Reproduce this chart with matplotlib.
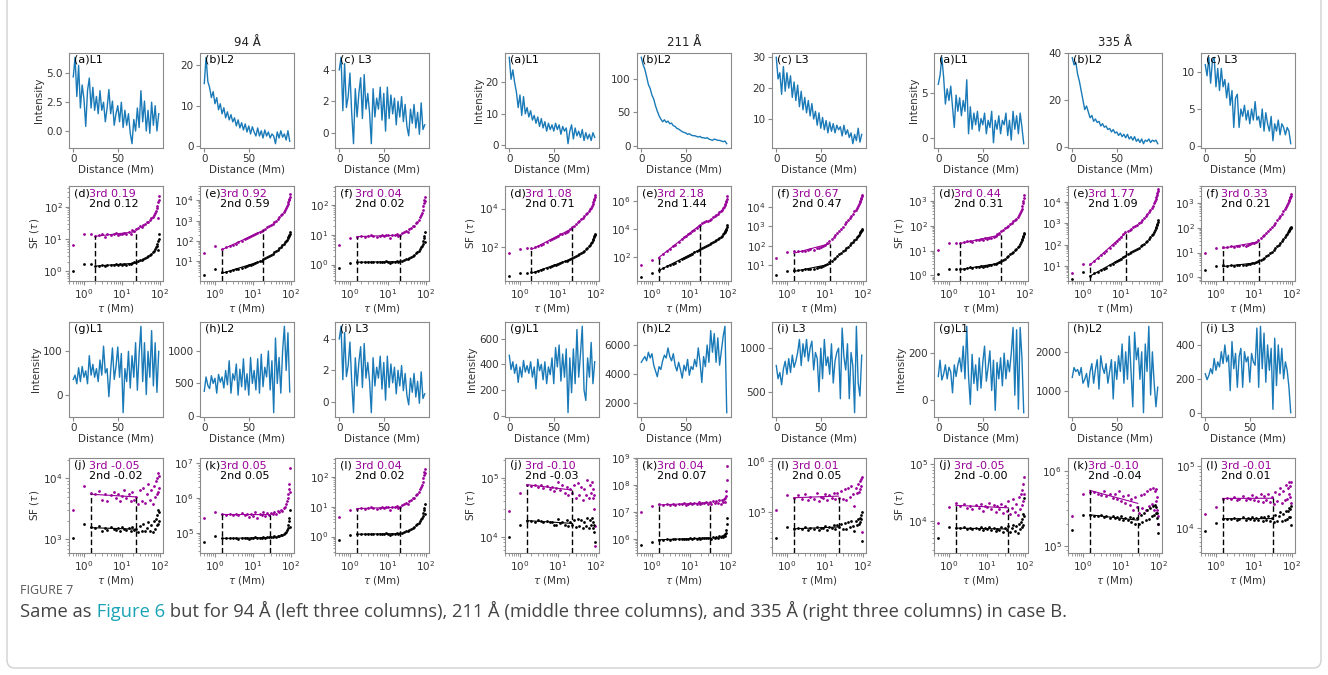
import numpy as np
import matplotlib.pyplot as plt
from matplotlib.patches import FancyBboxPatch
from matplotlib.ticker import NullFormatter

plt.rcParams['font.size'] = 7.5
plt.rcParams['axes.edgecolor'] = '#8a8a8a'
plt.rcParams['xtick.color'] = '#8a8a8a'
plt.rcParams['ytick.color'] = '#8a8a8a'
plt.rcParams['xtick.labelcolor'] = '#333333'
plt.rcParams['ytick.labelcolor'] = '#333333'
plt.rcParams['axes.labelcolor'] = '#333333'
plt.rcParams['xtick.major.pad'] = 1.5
plt.rcParams['ytick.major.pad'] = 1.5
plt.rcParams['xtick.major.size'] = 3
plt.rcParams['ytick.major.size'] = 3
plt.rcParams['xtick.minor.size'] = 1.8
plt.rcParams['ytick.minor.size'] = 1.8

blue = '#1a7ab8'
purple = '#990099'

bands = ['94', '211', '335']

# ---------------- intensity profiles (sampled every ~2 Mm) ----------------
int_94_L1 = [4.7, 6.4, 3.0, 5.7, 2.0, 4.0, 2.8, 0.4, 3.5, 4.6, 2.0, 3.8, 1.8, 3.0, 1.5, 3.5, 1.8, 2.5, 0.8, 2.0,
             3.6, 1.5, 2.6, 0.5, 1.5, 2.2, 0.8, 2.5, 0.3, 1.8, 0.5, 1.5, -0.2, -1.1, 1.0, 0.0, 2.0, 0.3, 3.5, 0.8,
             2.6, 0.0, 1.8, -0.2, 2.5, 0.5, 2.2, 0.0, 1.5]
int_94_L2 = [15.5, 22.0, 16.0, 14.5, 12.0, 13.5, 10.5, 12.0, 9.0, 10.5, 8.0, 9.5, 7.0, 8.5, 6.5, 7.8, 6.0, 7.0, 5.0, 6.5,
             4.5, 5.8, 4.0, 5.5, 3.5, 5.0, 3.0, 4.8, 3.5, 2.5, 4.5, 2.5, 3.8, 2.0, 4.0, 2.5, 3.5, 2.0, 3.0, 2.5,
             0.6, 3.5, 2.0, 3.8, 2.2, 3.0, 1.5, 3.8, 1.2]
int_94_L3 = [4.0, 4.8, 1.4, 4.4, 1.6, 2.3, 3.8, 1.2, -0.7, 2.8, 1.0, 2.5, 3.5, 0.9, 3.7, 1.5, 2.5, 1.3, -0.7, 2.8,
             1.0, 2.2, 1.5, 2.9, 0.8, 2.5, 0.1, 2.9, 0.9, 2.4, 1.2, 2.2, 0.5, 2.0, 1.0, 2.3, 0.7, 1.8, 0.4, -0.2,
             1.5, 0.6, 1.8, 0.3, 1.3, -0.1, 1.9, 0.2, 0.5]
int_211_L1 = [28.0, 21.0, 24.0, 20.0, 17.0, 12.0, 16.0, 9.5, 15.5, 10.0, 12.0, 9.0, 11.0, 8.0, 9.5, 7.0, 9.0, 6.0, 8.5, 5.5,
              7.5, 4.5, 7.0, 5.0, 6.5, 4.5, 7.0, 5.0, 6.5, 3.5, 6.0, 4.5, 5.5, 0.5, 4.5, 6.5, 2.0, 5.5, 3.0, 4.5,
              2.5, 5.0, 1.5, 4.0, 2.0, 3.5, 1.5, 4.0, 2.5]
int_211_L2 = [133, 122, 115, 104, 92, 86, 76, 70, 60, 52, 45, 40, 36, 39, 35, 37, 33, 34, 30, 29,
              26, 25, 23, 21, 20, 19, 17, 18, 16, 15, 15, 14, 13, 14, 12, 12, 11, 12, 10, 9,
              8, 10, 9, 8, 8, 7, 6, 7, 3]
int_211_L3 = [30.0, 23.0, 25.0, 18.0, 27.0, 19.0, 25.0, 20.0, 24.0, 17.0, 22.0, 16.0, 21.0, 14.0, 19.0, 13.0, 17.0, 12.0,
              16.0, 11.0, 15.0, 10.0, 12.5, 8.0, 12.0, 7.0, 10.5, 6.5, 9.5, 5.5, 9.0, 6.0, 8.5, 5.5, 8.0, 6.5, 7.5,
              4.5, 8.0, 5.0, 6.5, 4.0, 5.5, 2.0, 5.0, 3.0, 7.0, 2.5, 5.0]
int_335_L1 = [6.0, 7.0, 9.0, 6.8, 3.8, 5.5, 4.2, 5.8, 3.5, 1.2, 4.8, 3.0, 4.5, 2.5, 4.2, 3.0, 6.5, 0.5, 3.5, 1.0,
              2.8, 1.5, 3.0, 0.8, 2.2, 1.5, 2.8, 0.5, 2.0, 1.2, 3.0, -0.5, 2.0, 1.0, 2.5, 0.5, 2.0, 1.5, 2.8, 0.3,
              2.0, -0.2, 3.0, 1.0, 2.5, 0.5, 2.8, 1.2, -0.6]
int_335_L2 = [38.0, 35.0, 36.0, 31.0, 28.0, 24.0, 20.0, 16.0, 17.5, 15.0, 12.5, 13.5, 11.0, 12.0, 10.5, 11.0, 9.0, 10.0,
              8.5, 9.0, 7.5, 8.0, 6.5, 7.5, 6.0, 6.5, 5.0, 6.0, 4.5, 5.5, 4.0, 5.5, 3.5, 4.5, 3.0, 4.5, 2.5, 3.5,
              2.0, 3.5, 1.5, 3.0, 2.5, 3.5, 2.0, 3.0, 2.5, 3.0, 1.5]
int_335_L3 = [11.0, 9.5, 12.0, 8.5, 11.5, 12.0, 8.0, 10.5, 7.5, 10.5, 8.0, 9.0, 6.5, 8.5, 5.5, 7.5, 2.5, 6.5, 7.0, 2.5,
              5.0, 4.0, 5.5, 3.5, 4.8, 3.0, 5.0, 3.5, 6.0, 3.5, 4.0, 2.5, 5.0, 2.0, 4.5, 3.0, 2.0, 4.0, 0.7, 3.0,
              2.0, 3.5, 1.5, 3.0, 2.5, 1.5, 2.5, 2.0, 0.3]

int_94_g = [35, 45, 25, 62, 30, 65, 40, 55, 25, 90, 45, 70, 40, 60, 30, 80, 45, 112, 50, 60,
            -5, 55, 108, 35, 65, 110, 40, 95, -42, 60, 30, 100, 15, 90, 40, 120, 10, 95, 158, 30,
            120, 0, 100, 40, 148, 20, 120, 5, 100]
int_94_h = [380, 600, 470, 420, 620, 500, 580, 350, 640, 520, 600, 430, 700, 480, 850, 350, 650, 550, 800, 320,
            720, 450, 880, 400, 650, 320, 900, 500, 700, 400, 880, 350, 950, 450, 750, 600, 1000, 400, 850, 50,
            1200, 500, 900, 350, 1000, 1380, 700, 1280, 370]
int_94_i = int_94_L3
int_211_g = [470, 360, 420, 330, 400, 260, 380, 300, 430, 340, 390, 330, 420, 300, 380, 210, 440, 350, 400, 280,
             420, 250, 380, 320, 450, 250, 530, 380, 550, 270, 480, 300, 520, 25, 450, 180, 520, 250, 670, 300,
             480, 695, 200, 120, 450, 300, 570, 250, 420]
int_211_h = [4800, 5000, 5200, 4900, 5500, 5100, 5400, 4600, 4200, 3800, 4500, 4300, 4900, 5300, 5100, 5800, 5200,
             4900, 5400, 4600, 4200, 4800, 4300, 3700, 4600, 4200, 5000, 3900, 4500, 4300, 5000, 4500, 5800, 4800,
             3400, 5200, 4500, 6000, 4800, 7000, 5500, 6800, 4800, 6500, 4600, 5600, 6600, 7300, 1300]
int_211_i = [800, 650, 720, 580, 760, 850, 700, 880, 720, 920, 780, 850, 950, 1100, 800, 1050, 900, 1100, 850, 1000,
             1080, 750, 950, 880, 500, 1000, 650, 1100, 800, 900, 700, 1050, 600, 850, 950, 1000, 420, 1230, 900,
             750, 1050, 420, 950, 800, 260, 1250, 600, 450, 920]
int_335_g = [100, 170, 85, 110, 150, 90, 140, 120, 30, 150, 100, 150, 180, 120, 230, 90, 315, 100, -20, 195,
             70, 150, 40, 180, 50, 160, 230, 80, 140, 210, 40, 170, -45, 160, 90, 180, 60, 200, 90, 170,
             120, 200, 310, 20, 300, -40, 310, 180, -55]
int_335_h = [1350, 1600, 1500, 1550, 1400, 1600, 1200, 1300, 1450, 1100, 1500, 1700, 1200, 1550, 1800, 1050, 1900,
             1600, 1450, 1700, 1200, 1500, 1800, 800, 1750, 1300, 1900, 1500, 2200, 1200, 2000, 1300, 2400, 1500,
             600, 2500, 1800, 2100, 1300, 2000, 450, 2200, 1500, 2650, 900, 2000, 1200, 600, 1100]
int_335_i = [230, 195, 220, 260, 230, 320, 250, 300, 270, 360, 290, 400, 300, 340, 130, 420, 260, 350, 150, 330,
             380, 150, 360, 300, 330, 180, 350, 300, 280, 500, 150, 510, 260, 470, 180, 400, 250, 380, 20, 440,
             160, 400, 230, 380, 200, 300, 250, 150, 0]

int_top = [[int_94_L1, int_94_L2, int_94_L3], [int_211_L1, int_211_L2, int_211_L3],
           [int_335_L1, int_335_L2, int_335_L3]]
int_bot = [[int_94_g, int_94_h, int_94_i], [int_211_g, int_211_h, int_211_i],
           [int_335_g, int_335_h, int_335_i]]
yt_top = [[[0.0, 2.5, 5.0], [0, 10, 20], [0, 2, 4]], [[0, 10, 20], [0, 50, 100], [10, 20, 30]],
          [[0, 5], [0, 20, 40], [0, 5, 10]]]
yt_bot = [[[0, 100], [0, 500, 1000], [0, 2, 4]], [[0, 200, 400, 600], [2000, 4000, 6000], [500, 1000]],
          [[0, 200], [1000, 2000], [0, 200, 400]]]

# ---------------- structure functions ----------------
tau = [0.5, 1, 1.5, 2, 2.5, 3, 3.5, 4, 5, 6, 7, 8, 9, 10, 11.5, 13, 15, 17, 19, 21.5,
       24, 27, 30, 33.5, 37, 41, 45, 50, 55, 60, 65, 70, 75, 79, 83, 86, 89, 91, 93, 95]

sf3_94_d = [6.5, 15, 15, 12.5, 13, 14, 12, 15, 13, 14, 16, 13, 15, 14, 16, 14, 17, 15, 19, 18,
            21, 22, 25, 24, 28, 30, 34, 33, 40, 45, 50, 55, 65, 75, 90, 110, 140, 45, 170, 220]
sf2_94_d = [1.0, 1.7, 1.7, 1.45, 1.5, 1.55, 1.5, 1.6, 1.55, 1.6, 1.65, 1.55, 1.7, 1.6, 1.65, 1.6, 1.75, 1.7, 1.85, 1.9,
            2.0, 2.1, 2.3, 2.3, 2.5, 2.6, 2.8, 2.9, 3.2, 3.5, 3.9, 4.3, 5.0, 5.6, 6.3, 7.0, 8.5, 4.5, 10, 14]
sf3_94_e = [27, 60, 42, 50, 60, 65, 75, 85, 100, 120, 135, 150, 170, 190, 210, 240, 280, 320, 360, 400,
            470, 540, 620, 720, 850, 1000, 1200, 1450, 1800, 2200, 2700, 3300, 4200, 5000, 6500, 8000, 10000, 12000,
            15000, 20000]
sf2_94_e = [2.2, 4.3, 2.9, 3.2, 3.5, 3.8, 4.1, 4.4, 5.0, 5.5, 6.0, 6.5, 7.0, 7.5, 8.3, 9.0, 10, 11, 12.5, 14,
            16, 18, 21, 24, 28, 33, 38, 45, 53, 62, 72, 85, 100, 115, 135, 155, 180, 200, 230, 270]
sf3_94_f = [4.5, 8, 8.5, 9, 8.5, 9, 9.5, 9, 8.5, 9, 9.5, 9, 10, 9.5, 8, 10, 9.5, 10.5, 9, 10,
            11, 12, 13, 12, 15, 17, 19, 20, 24, 27, 32, 38, 45, 55, 70, 90, 120, 150, 130, 180]
sf2_94_f = [0.75, 1.15, 1.2, 1.2, 1.18, 1.22, 1.2, 1.25, 1.2, 1.22, 1.25, 1.2, 1.3, 1.25, 1.15, 1.25, 1.2, 1.3, 1.25,
            1.3, 1.35, 1.4, 1.5, 1.5, 1.65, 1.8, 1.95, 2.1, 2.4, 2.6, 2.9, 3.3, 3.8, 4.3, 5.0, 6.0, 7.5, 9.0, 5.5, 12]
sf3_211_d = [50, 75, 85, 90, 95, 110, 125, 140, 180, 220, 250, 300, 330, 380, 450, 500, 560, 620, 720, 850,
             1100, 1300, 1600, 1900, 2300, 2800, 3300, 4000, 5000, 6000, 7500, 9000, 11000, 14000, 18000, 22000,
             28000, 33000, 40000, 50000]
sf2_211_d = [3.2, 4.2, 4.5, 4.8, 5.2, 5.8, 6.3, 6.8, 8, 9, 10, 11, 12, 13, 15, 16, 18, 19, 21, 23,
             26, 29, 33, 37, 42, 48, 55, 65, 78, 92, 110, 130, 160, 190, 230, 270, 320, 360, 400, 460]
sf3_211_e = [29, 68, 95, 180, 280, 420, 600, 800, 1300, 1900, 2600, 3400, 4300, 5300, 7000, 9000, 12000, 16000,
             21000, 27000, 32000, 36000, 40000, 46000, 55000, 67000, 80000, 1.0e5, 1.25e5, 1.55e5, 1.9e5, 2.4e5,
             3.0e5, 3.8e5, 4.8e5, 6.0e5, 8.0e5, 1.0e6, 1.4e6, 2.2e6]
sf2_211_e = [4.5, 8, 13, 18, 24, 30, 37, 44, 60, 76, 95, 115, 135, 155, 190, 225, 275, 330, 390, 460,
             540, 630, 730, 860, 1000, 1200, 1400, 1700, 2050, 2450, 2900, 3500, 4200, 5000, 6000, 7200, 9000,
             11000, 14000, 19000]
sf3_211_f = [22, 48, 50, 52, 55, 55, 58, 65, 62, 75, 80, 85, 95, 110, 140, 170, 220, 280, 350, 450,
             580, 750, 950, 1250, 1600, 2100, 2700, 3500, 4500, 5800, 7200, 9000, 11500, 14000, 17500, 21000,
             26000, 30000, 35000, 42000]
sf2_211_f = [3, 5.2, 5.5, 5.7, 5.8, 6, 6, 6.3, 6.5, 7, 7.5, 8, 9, 10, 12, 14, 17, 20, 24, 29,
             35, 42, 50, 60, 72, 88, 105, 130, 160, 190, 225, 270, 320, 370, 430, 480, 540, 590, 640, 700]
sf3_335_d = [11, 20, 21, 20, 22, 24, 25, 23, 28, 26, 30, 27, 32, 30, 33, 31, 36, 40, 45, 50,
             60, 70, 80, 90, 100, 115, 135, 150, 170, 190, 220, 260, 320, 380, 480, 600, 800, 1000, 1300, 1800]
sf2_335_d = [1.2, 1.8, 1.8, 1.8, 1.9, 2.0, 2.1, 2.0, 2.2, 2.2, 2.4, 2.3, 2.5, 2.4, 2.6, 2.6, 2.8, 3.0, 3.2, 3.5,
             3.8, 4.3, 4.8, 5.5, 6.2, 7, 8, 9, 10.5, 12, 14, 16, 19, 22, 26, 30, 35, 40, 45, 52]
sf3_335_e = [4.5, 12, 12, 18, 25, 32, 40, 48, 70, 95, 120, 150, 180, 220, 300, 380, 450, 500, 560, 650,
             750, 870, 1000, 1200, 1450, 1750, 2100, 2600, 3200, 4000, 5000, 6500, 8500, 11000, 14000, 17000,
             22000, 26000, 32000, 42000]
sf2_335_e = [2.5, 5, 3.5, 4.5, 5.5, 6.5, 7.5, 8.5, 11, 13, 15, 17, 19, 22, 26, 30, 35, 40, 44, 50,
             56, 63, 72, 82, 95, 110, 130, 155, 185, 220, 270, 330, 410, 490, 590, 680, 820, 950, 1100, 1400]
sf3_335_f = [10, 15, 17, 16, 18, 17, 19, 18, 20, 19, 21, 22, 24, 25, 28, 32, 38, 45, 52, 62,
             75, 90, 110, 135, 165, 200, 250, 310, 380, 470, 580, 700, 850, 1000, 1200, 1400, 1600, 1800, 2000, 2300]
sf2_335_f = [2, 2.9, 3, 2.9, 3, 2.95, 3.1, 3, 3.1, 3.2, 3.3, 3.4, 3.6, 3.8, 4.1, 4.5, 5, 5.6, 6.2, 7,
             8, 9.3, 11, 13, 15, 18, 21, 25, 30, 36, 43, 50, 58, 66, 74, 80, 88, 95, 100, 110]

sf3_94_j = [3000, 7500, 5800, 5500, 6200, 4500, 5600, 4200, 5400, 6000, 4800, 5500, 4300, 5200, 6500, 4800, 5500,
            4200, 6000, 4500, 5000, 3800, 6500, 4200, 7000, 4000, 5500, 8000, 4500, 6500, 3800, 7500, 5000, 9000,
            5500, 10000, 6000, 12000, 7000, 11000]
sf2_94_j = [1050, 1800, 1600, 1550, 1650, 1400, 1550, 1450, 1600, 1500, 1450, 1550, 1400, 1600, 1500, 1450, 1550,
            1400, 1600, 1450, 1500, 1300, 1650, 1400, 1800, 1350, 1550, 1900, 1400, 1700, 1300, 2000, 1500, 2200,
            1700, 2500, 1800, 3000, 2000, 2800]
sf3_94_k = [2.7e5, 4e5, 3.4e5, 3.3e5, 3.5e5, 3.2e5, 3.4e5, 3.3e5, 3.6e5, 3.2e5, 3.5e5, 2.8e5, 3.4e5, 3.0e5, 3.8e5,
            2.6e5, 3.5e5, 3.2e5, 4.0e5, 3.0e5, 3.6e5, 3.3e5, 3.7e5, 3.5e5, 4.0e5, 3.4e5, 4.2e5, 3.8e5, 4.5e5,
            4.2e5, 5.0e5, 5.5e5, 6.5e5, 8e5, 1.0e6, 1.3e6, 1.8e6, 2.5e6, 1.5e6, 7e6]
sf2_94_k = [5.5e4, 8e4, 7e4, 6.8e4, 7.2e4, 6.9e4, 7e4, 6.7e4, 7.1e4, 6.8e4, 7e4, 6.6e4, 7.2e4, 6.9e4, 7.3e4, 6.8e4,
            7.2e4, 7e4, 7.5e4, 7.1e4, 7.4e4, 7.3e4, 7.6e4, 7.4e4, 7.8e4, 7.5e4, 8e4, 7.8e4, 8.3e4, 8.5e4, 9e4,
            9.5e4, 1.05e5, 1.2e5, 1.4e5, 1.7e5, 2.1e5, 2.6e5, 1.5e5, 4.5e5]
sf3_94_l = sf3_94_f
sf2_94_l = sf2_94_f
sf3_211_j = [2.7e4, 5.5e4, 7.5e4, 7.2e4, 7.6e4, 7.0e4, 7.4e4, 6.8e4, 7.2e4, 6.5e4, 7.0e4, 6.0e4, 6.8e4, 8.5e4,
             6.2e4, 7.5e4, 5.5e4, 7.0e4, 5.0e4, 6.5e4, 5.5e4, 7.5e4, 4.5e4, 8.0e4, 5.0e4, 7.0e4, 4.2e4, 6.5e4,
             5.0e4, 9.0e4, 4.5e4, 7.5e4, 5.5e4, 8.5e4, 4.5e4, 6.5e4, 3.0e4, 5.0e4, 1.5e4, 7e3]
sf2_211_j = [1e4, 1.55e4, 1.85e4, 1.85e4, 1.8e4, 1.9e4, 1.85e4, 1.8e4, 1.85e4, 1.75e4, 1.8e4, 1.6e4, 1.55e4, 2.0e4,
             1.7e4, 1.8e4, 1.6e4, 1.9e4, 1.5e4, 1.8e4, 1.6e4, 1.9e4, 1.45e4, 2.0e4, 1.5e4, 1.9e4, 1.4e4, 1.8e4,
             1.5e4, 2.1e4, 1.4e4, 1.9e4, 1.6e4, 2.1e4, 1.4e4, 1.8e4, 1.2e4, 1.6e4, 8e3, 5e3]
sf3_211_k = [1e7, 1.6e7, 1.9e7, 1.8e7, 1.9e7, 1.85e7, 2.0e7, 1.8e7, 2.0e7, 1.9e7, 2.1e7, 1.8e7, 2.0e7, 2.2e7,
             1.9e7, 2.1e7, 2.0e7, 2.3e7, 2.0e7, 2.2e7, 2.1e7, 2.4e7, 2.0e7, 2.3e7, 1.9e7, 2.5e7, 2.1e7, 2.6e7,
             2.2e7, 2.8e7, 2.0e7, 2.7e7, 2.3e7, 3.0e7, 2.4e7, 3.2e7, 4.0e7, 6.0e7, 1.5e8, 5e8]
sf2_211_k = [6e5, 7.5e5, 9e5, 9.5e5, 9.8e5, 9.5e5, 1.0e6, 9.6e5, 1.0e6, 9.8e5, 1.02e6, 9.7e5, 1.0e6, 1.05e6,
             1.0e6, 1.05e6, 1.02e6, 1.08e6, 1.03e6, 1.1e6, 1.05e6, 1.12e6, 1.05e6, 1.1e6, 1.0e6, 1.15e6, 1.08e6,
             1.2e6, 1.1e6, 1.25e6, 1.15e6, 1.3e6, 1.2e6, 1.4e6, 1.3e6, 1.5e6, 1.7e6, 2.2e6, 3.5e6, 6e6]
sf3_211_l = [1.1e5, 2.1e5, 1.9e5, 2.1e5, 1.8e5, 2.2e5, 1.7e5, 2.0e5, 1.8e5, 2.3e5, 1.6e5, 2.0e5, 1.9e5, 2.2e5,
             1.7e5, 2.1e5, 1.9e5, 2.4e5, 1.8e5, 2.3e5, 1.9e5, 2.6e5, 1.8e5, 2.8e5, 1.7e5, 3.0e5, 2.0e5, 3.2e5,
             2.2e5, 1.3e5, 3.0e5, 2.4e5, 3.5e5, 2.5e5, 4.0e5, 2.8e5, 4.5e5, 3.2e5, 5.0e5, 4e4]
sf2_211_l = [3e4, 5e4, 4.6e4, 4.8e4, 4.5e4, 4.9e4, 4.4e4, 4.8e4, 4.6e4, 5.0e4, 4.3e4, 4.8e4, 4.7e4, 5.1e4, 4.4e4,
             5.0e4, 4.7e4, 5.4e4, 4.6e4, 5.3e4, 4.9e4, 5.6e4, 4.6e4, 5.9e4, 4.5e4, 6.2e4, 5.0e4, 6.5e4, 5.2e4,
             4.2e4, 6.5e4, 5.5e4, 7.0e4, 5.8e4, 7.5e4, 6.2e4, 8.5e4, 7.0e4, 1.0e5, 2.6e4]
sf3_335_j = [9000, 17500, 21000, 18000, 19500, 17000, 18500, 16000, 19000, 17000, 20000, 15000, 18000, 17500,
             21000, 16000, 19000, 14500, 18000, 16000, 20000, 13500, 18000, 15000, 22000, 13000, 17000, 24000,
             14000, 20000, 12500, 26000, 16000, 30000, 19000, 35000, 22000, 45000, 30000, 60000]
sf2_335_j = [5000, 7700, 7500, 7300, 7600, 7100, 7400, 7000, 7500, 7200, 7600, 6800, 7300, 7000, 7800, 6800, 7400,
             6500, 7200, 6900, 7600, 6400, 7500, 6800, 8000, 6200, 7400, 8500, 6500, 8000, 6000, 8800, 7000, 9500,
             7800, 10500, 8500, 13000, 12000, 25000]
sf3_335_k = [2.5e5, 5e5, 5.2e5, 5.3e5, 5.0e5, 4.8e5, 5.4e5, 4.6e5, 5.0e5, 4.4e5, 4.9e5, 4.2e5, 5.5e5, 4.0e5, 4.6e5,
             3.8e5, 4.8e5, 3.5e5, 4.2e5, 3.0e5, 4.5e5, 3.3e5, 2.8e5, 4.8e5, 3.2e5, 5.0e5, 3.0e5, 5.5e5, 3.4e5,
             5.8e5, 3.6e5, 6.0e5, 3.0e5, 5.5e5, 4.0e5, 5.8e5, 3.0e5, 4.5e5, 2.5e5, 2.0e5]
sf2_335_k = [1.65e5, 2.6e5, 2.6e5, 2.55e5, 2.5e5, 2.6e5, 2.45e5, 2.55e5, 2.4e5, 2.5e5, 2.35e5, 2.45e5, 2.3e5, 2.5e5,
             2.25e5, 2.4e5, 2.2e5, 2.45e5, 2.1e5, 2.35e5, 2.0e5, 2.4e5, 2.0e5, 2.6e5, 2.1e5, 2.8e5, 2.2e5, 3.0e5,
             2.3e5, 3.2e5, 2.5e5, 3.4e5, 2.6e5, 3.5e5, 2.8e5, 3.3e5, 2.4e5, 2.8e5, 2.0e5, 1.5e5]
sf3_335_l = [1.7e4, 2.2e4, 3.0e4, 3.1e4, 2.9e4, 3.2e4, 2.8e4, 3.0e4, 3.3e4, 2.8e4, 3.1e4, 2.9e4, 3.4e4, 2.8e4, 3.2e4,
             2.7e4, 3.5e4, 2.6e4, 3.3e4, 2.8e4, 3.6e4, 2.6e4, 3.2e4, 2.4e4, 3.8e4, 2.7e4, 3.5e4, 4.5e4, 2.5e4,
             4.0e4, 2.8e4, 5.0e4, 3.0e4, 4.5e4, 3.5e4, 5.5e4, 3.2e4, 4.8e4, 2.5e4, 5.5e4]
sf2_335_l = [9000, 1.2e4, 1.4e4, 1.42e4, 1.38e4, 1.45e4, 1.35e4, 1.42e4, 1.48e4, 1.36e4, 1.44e4, 1.38e4, 1.5e4,
             1.36e4, 1.46e4, 1.32e4, 1.52e4, 1.3e4, 1.48e4, 1.36e4, 1.55e4, 1.3e4, 1.45e4, 1.25e4, 1.6e4, 1.3e4,
             1.55e4, 1.8e4, 1.3e4, 1.7e4, 1.35e4, 1.9e4, 1.4e4, 1.85e4, 1.5e4, 2.1e4, 1.5e4, 2.0e4, 1.1e4, 2.3e4]

sf_top = [[(sf2_94_d, sf3_94_d), (sf2_94_e, sf3_94_e), (sf2_94_f, sf3_94_f)],
          [(sf2_211_d, sf3_211_d), (sf2_211_e, sf3_211_e), (sf2_211_f, sf3_211_f)],
          [(sf2_335_d, sf3_335_d), (sf2_335_e, sf3_335_e), (sf2_335_f, sf3_335_f)]]
sf_bot = [[(sf2_94_j, sf3_94_j), (sf2_94_k, sf3_94_k), (sf2_94_l, sf3_94_l)],
          [(sf2_211_j, sf3_211_j), (sf2_211_k, sf3_211_k), (sf2_211_l, sf3_211_l)],
          [(sf2_335_j, sf3_335_j), (sf2_335_k, sf3_335_k), (sf2_335_l, sf3_335_l)]]

# slopes printed in the panels (3rd, 2nd)
slope_top = [[('0.19', '0.12'), ('0.92', '0.59'), ('0.04', '0.02')],
             [('1.08', '0.71'), ('2.18', '1.44'), ('0.67', '0.47')],
             [('0.44', '0.31'), ('1.77', '1.09'), ('0.33', '0.21')]]
slope_bot = [[('-0.05', '-0.02'), ('0.05', '0.05'), ('0.04', '0.02')],
             [('-0.10', '-0.03'), ('0.04', '0.07'), ('0.01', '0.05')],
             [('-0.05', '-0.00'), ('-0.10', '-0.04'), ('-0.01', '0.01')]]
# fitting ranges (Mm)
fit_top = [[(2.0, 23), (1.5, 19), (1.5, 21)], [(2.0, 24), (1.5, 19), (1.5, 13.5)],
           [(2.0, 23), (1.5, 13.5), (1.5, 13.5)]]
fit_bot = [[(1.5, 23), (1.5, 28), (1.5, 21)], [(1.5, 23), (1.5, 33), (1.5, 23)],
           [(1.5, 37), (1.5, 28), (1.5, 32)]]
ylim_top = [[(0.5, 450), (1.1, 5e4), (0.28, 430)], [(1.7, 1.5e5), (2.2, 1.1e7), (1.5, 1.2e5)],
            [(0.6, 4000), (2.0, 5.5e4), (0.7, 5000)]]
ylim_bot = [[(600, 2.15e4), (2.6e4, 1.4e7), (0.28, 430)], [(5300, 2.15e5), (3e5, 9.4e8), (1.5e4, 1.17e6)],
            [(2660, 1.3e5), (8.1e4, 1.5e6), (3900, 1.37e5)]]
yt_sf_top = [[[1, 10, 100], [10, 100, 1e3, 1e4], [1, 10, 100]], [[1e2, 1e4], [1e2, 1e4, 1e6], [10, 1e2, 1e3, 1e4]],
             [[1, 10, 100, 1e3], [10, 1e2, 1e3, 1e4], [1, 10, 100, 1e3]]]
yt_sf_bot = [[[1e3, 1e4], [1e5, 1e6, 1e7], [1, 10, 100]], [[1e4, 1e5], [1e6, 1e7, 1e8, 1e9], [1e5, 1e6]],
             [[1e4, 1e5], [1e5, 1e6], [1e4, 1e5]]]

lab_top = ['(a)L1', '(b)L2', '(c) L3']
lab_bot = ['(g)L1', '(h)L2', '(i) L3']
sf_lab_top = ['(d)', '(e)', '(f)']
sf_lab_bot = ['(j)', '(k)', '(l)']

fig = plt.figure(figsize=(13.28, 6.75), dpi=100)
W, H = 1328.0, 675.0
col_left = [69, 200, 335, 505, 637, 772, 934, 1068, 1201]
row_top = [53, 186, 322, 458]
pw, ph = 94, 95


def new_ax(col, row):
    return fig.add_axes([col_left[col] / W, 1 - (row_top[row] + ph) / H, pw / W, ph / H])


def intensity_panel(ax, y, yticks, label, first):
    ax.plot(np.linspace(0, 96, len(y)), y, color=blue, lw=1)
    ax.set_xticks([0, 50])
    ax.set_yticks(yticks)
    ax.set_xlabel('Distance (Mm)', labelpad=0.5)
    if first:
        ax.set_ylabel('Intensity', labelpad=1.5)
    ax.text(0.05, 0.93, label, transform=ax.transAxes, va='center', ha='left', fontsize=8)


def sf_panel(ax, s2, s3, fit, ylim, yticks, label, sl, first):
    t = np.array(tau)
    s2 = np.array(s2)
    s3 = np.array(s3)
    ax.set_xscale('log')
    ax.set_yscale('log')
    ax.plot(t, s3, 'o', ms=2.0, mew=0, color=purple)
    ax.plot(t, s2, 'o', ms=2.0, mew=0, color='k')
    ax.set_ylim(ylim)
    ax.set_xlim(0.4, 122)
    sel = (t >= fit[0]) & (t <= fit[1])
    tt = np.array(fit)
    tops = None
    for s, c in ((s3, purple), (s2, 'k')):
        k, b = np.polyfit(np.log10(t[sel]), np.log10(s[sel]), 1)
        yy = 10 ** (b + k * np.log10(tt))
        ax.plot(tt, yy, color=c, lw=0.8)
        if tops is None:
            tops = yy
    ax.vlines(tt, ylim[0], tops, colors='k', linestyles=(0, (4, 2)), lw=1)
    ax.set_yticks(yticks)
    ax.yaxis.set_minor_formatter(NullFormatter())
    ax.xaxis.set_minor_formatter(NullFormatter())
    ax.set_xticks([1, 10, 100])
    ax.set_xlabel(r'$\tau$ (Mm)', labelpad=0.5)
    if first:
        ax.set_ylabel(r'SF ($\tau$)', labelpad=1.5)
    ax.text(0.05, 0.925, label, transform=ax.transAxes, va='center', ha='left', fontsize=8)
    ax.text(0.21, 0.915, '3rd ' + sl[0], transform=ax.transAxes, va='center', ha='left', fontsize=8,
            color=purple)
    ax.text(0.21, 0.815, '2nd ' + sl[1], transform=ax.transAxes, va='center', ha='left', fontsize=8)


for g in range(3):
    for j in range(3):
        col = 3 * g + j
        intensity_panel(new_ax(col, 0), int_top[g][j], yt_top[g][j], lab_top[j], j == 0)
        s2, s3 = sf_top[g][j]
        sf_panel(new_ax(col, 1), s2, s3, fit_top[g][j], ylim_top[g][j], yt_sf_top[g][j],
                 sf_lab_top[j], slope_top[g][j], j == 0)
        intensity_panel(new_ax(col, 2), int_bot[g][j], yt_bot[g][j], lab_bot[j], j == 0)
        s2, s3 = sf_bot[g][j]
        sf_panel(new_ax(col, 3), s2, s3, fit_bot[g][j], ylim_bot[g][j], yt_sf_bot[g][j],
                 sf_lab_bot[j], slope_bot[g][j], j == 0)
    fig.text((col_left[3 * g + 1] + pw / 2) / W, 1 - 43 / H, bands[g] + ' Å', ha='center', va='center',
             fontsize=8.5, color='#222222')

# overlay for caption and frame, in pixel coordinates
ov = fig.add_axes([0, 0, 1, 1], zorder=-1)
ov.set_xlim(0, W)
ov.set_ylim(H, 0)
ov.axis('off')
ov.add_patch(FancyBboxPatch((7, -10), 1314, 678, boxstyle='round,pad=0,rounding_size=8',
                            fc='none', ec='#d0d0d0', lw=1))
cap_font = 'Open Sans'
ov.text(20, 590, 'FIGURE 7', fontsize=9, color='#555555', family=cap_font, va='center', ha='left')
t1 = ov.text(20, 617, 'Same as', fontsize=13.2, color='#444444', family=cap_font, va='baseline', ha='left')
t2 = ov.annotate(' Figure 6', xy=(1, 0), xycoords=t1, va='bottom', ha='left', fontsize=13.2,
                 color='#1aa3b5', family=cap_font)
ov.annotate(' but for 94 Å (left three columns), 211 Å (middle three columns), and 335 Å (right three columns) '
            'in case B.', xy=(1, 0), xycoords=t2, va='bottom', ha='left', fontsize=13.2, color='#444444',
            family=cap_font)

fig.savefig('out.png', dpi=100)
